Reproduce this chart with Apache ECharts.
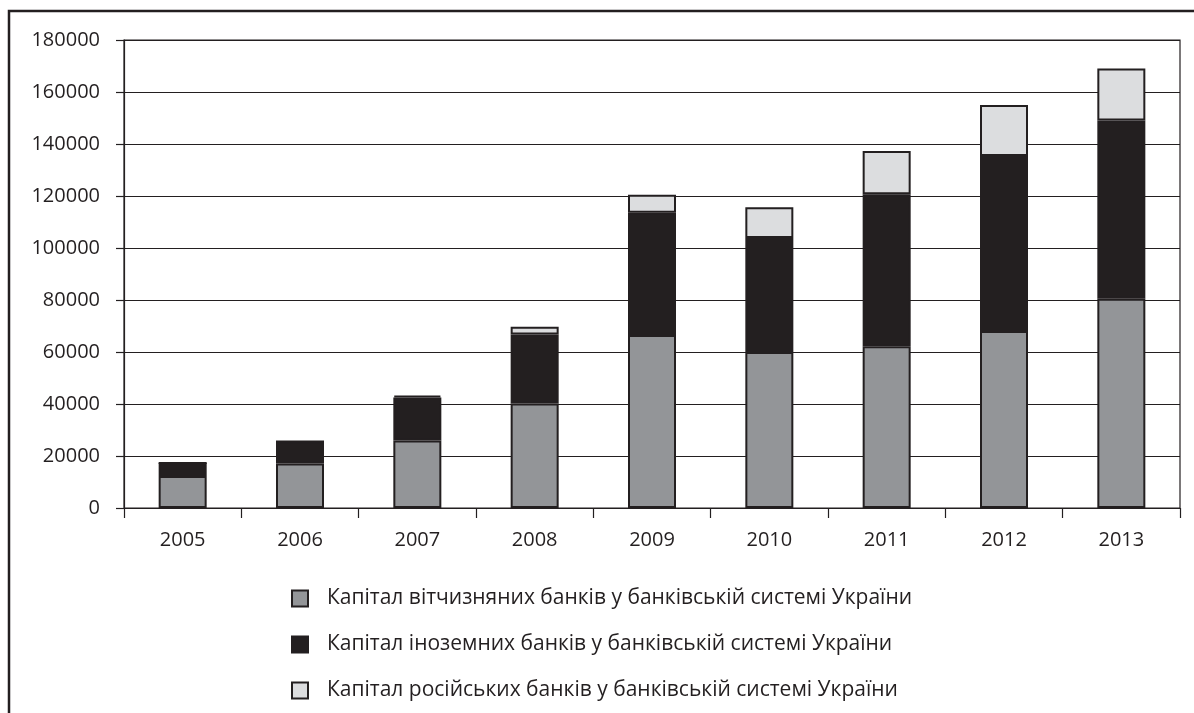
<!DOCTYPE html>
<html>
<head>
<meta charset="utf-8">
<script src="https://cdn.jsdelivr.net/npm/echarts@6/dist/echarts.min.js"></script>
<style>
html,body{margin:0;padding:0;background:#fff;}
#chart{width:1194px;height:713px;}
</style>
</head>
<body>
<div id="chart"></div>
<script>
const years = ['2005','2006','2007','2008','2009','2010','2011','2012','2013'];
const domestic = [12300, 17100, 26000, 40200, 66500, 60000, 62200, 68100, 80500];
const foreign = [5000, 8500, 16500, 26500, 47100, 43800, 58500, 67300, 68500];
const russian = [0, 0, 700, 3000, 6900, 11900, 16600, 19600, 20000];
const seriesNames = [
  'Капітал вітчизняних банків у банківській системі України',
  'Капітал іноземних банків у банківській системі України',
  'Капітал російських банків у банківській системі України'
];
const yTicks = {min: 0, max: 180000, interval: 20000};

const dark = '#231f20';
const font = 'Open Sans';
const chart = echarts.init(document.getElementById('chart'));
function bar(name, data, color) {
  return {
    name: name, type: 'bar', stack: 'total', data: data, barWidth: 48,
    itemStyle: {color: color, borderColor: dark, borderWidth: 2},
    emphasis: {disabled: true}
  };
}
chart.setOption({
  animation: false,
  textStyle: {fontFamily: font},
  graphic: [{
    type: 'rect', shape: {x: 9, y: 11, width: 1250, height: 800},
    style: {fill: 'none', stroke: dark, lineWidth: 2.5}, silent: true
  }],
  grid: {left: 124, top: 40, right: 14, bottom: 205, show: true, borderColor: dark, borderWidth: 1.2, backgroundColor: 'transparent'},
  xAxis: {
    type: 'category', data: years,
    axisLine: {lineStyle: {color: dark, width: 1.2}},
    axisTick: {show: true, length: 10, alignWithLabel: false, lineStyle: {color: dark, width: 1.2}},
    axisLabel: {color: dark, fontSize: 20, margin: 22, fontFamily: font}
  },
  yAxis: {
    type: 'value', min: yTicks.min, max: yTicks.max, interval: yTicks.interval,
    axisLine: {show: true, lineStyle: {color: dark, width: 1.2}},
    axisTick: {show: true, length: 8, lineStyle: {color: dark, width: 1.2}},
    splitLine: {show: true, lineStyle: {color: dark, width: 1.2}},
    axisLabel: {color: dark, fontSize: 20, margin: 24, fontFamily: font, formatter: v => String(v)}
  },
  legend: {
    orient: 'vertical', left: 286, top: 583,
    itemWidth: 16, itemHeight: 16, itemGap: 25,
    icon: 'rect',
    textStyle: {color: dark, fontSize: 21, lineHeight: 20, fontFamily: font, padding: [0, 0, 0, 14]},
    data: seriesNames
  },
  series: [
    bar(seriesNames[0], domestic, '#939598'),
    bar(seriesNames[1], foreign, dark),
    bar(seriesNames[2], russian, '#dcdddf')
  ]
});
</script>
</body>
</html>
